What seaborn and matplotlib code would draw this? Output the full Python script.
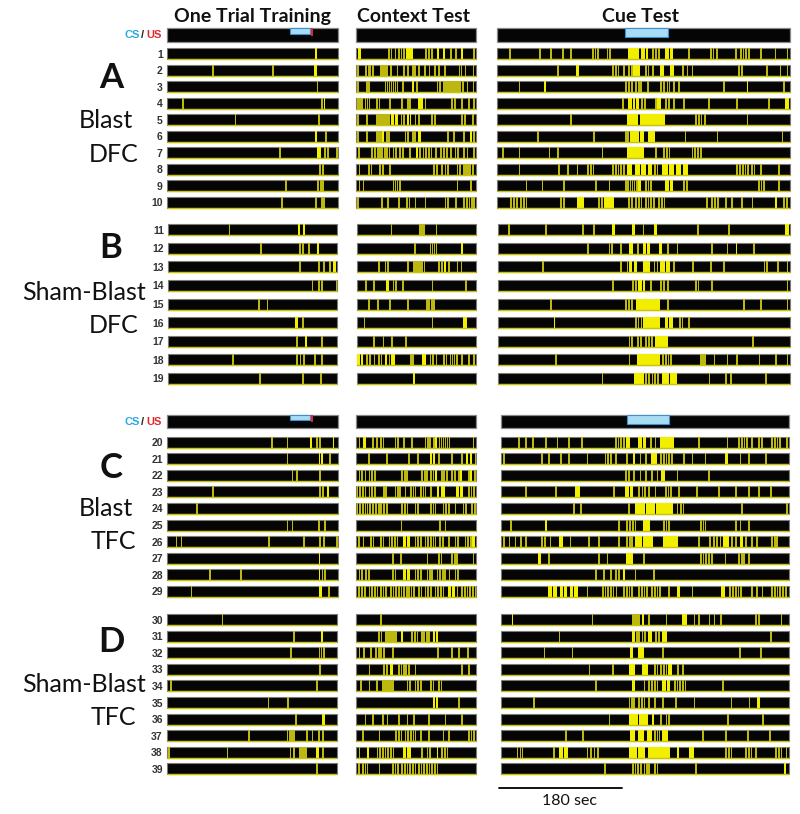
import numpy as np
import pandas as pd
import matplotlib
matplotlib.use("Agg")
import matplotlib.pyplot as plt
import seaborn as sns

# ---------------- data ----------------
TRAIN_DUR = 240
CONTEXT_DUR = 180
CUE_DUR = 420
train_cs = (173, 201)
train_us = (202.5, 204.5)
cue_cs = (184, 245)
SHORT = 2.5  # duration (s) of a brief freezing bout written as a single number

group_letters = ["A", "B", "C", "D"]
group_rows = [list(range(1, 11)), list(range(11, 20)), list(range(20, 30)), list(range(30, 40))]
group_line1 = ["Blast", "Sham-Blast", "Blast", "Sham-Blast"]
group_line2 = ["DFC", "DFC", "TFC", "TFC"]
titles = ["One Trial Training", "Context Test", "Cue Test"]
scale_label = "180 sec"
scale_len = 180

# freezing bouts per animal: number = brief bout start (s), tuple = (start, end) in s
training_bouts = [
    [(208, 211)], [63, 148, (207, 210)], [210], [21, 216, (220, 222)], [95, 212],
    [(208, 210), 222], [157, (211, 216), 220, 225, 237], [214, 218], [166, 211, 215, 218], [160, 208, 216, 219],
    [86, (184, 187), (192, 195)], [131, 186, 191, 199, (212, 215)], [186, 213, 220, 229, (235, 238)],
    [204, 213, 217, 238], [128, 140], [(181, 184), 191], [182, (195, 197), 217],
    [91, 182, 187, 192, 208, 217], [129, 191, 216],
    [146, 168, (200, 203), 209, 214, (233, 235)], [168, (213, 215), (216, 219), 227], [175, 181, 214],
    [63, 213, 218, (225, 227)], [41], [168, 175, 212, 220], [12, 19, 142, 191, 213, 219, 237],
    [(213, 215)], [59, 103, (213, 215), 217, 221], [33, (213, 218), 226],
    [77], [178, (218, 220)], [174, 214, 217, 220], [215], [4, 211], [142, 170], [181, (219, 223)],
    [115, 169, 172, 175, 178, 196, 204, 213, 219],
    [2, 84, 173, 178, 186, 189, 192, 195, (211, 214), 219], [211],
]

context_bouts = [
    [(3, 8), 48, 52, 58, 63, 67, 71, (75, 79), (80, 85), 104, 108, 113, (122, 125), (131, 134), 141, 149, (158, 161), 176],
    [2, 14, 18, 20, 24, 36, 39, 42, 45, 51, 61, 71, 77, 84, 87, 93, 102, 109, 117, 123, 132, 154, 157, 163, 175],
    [2, 15, 18, 43, 46, 49, 52, 55, 58, 61, 69, (84, 87), 90, 121, 125, 131, 134, 137, 140, 143, 146, 149, 152, 155, 159, 166, 175],
    [2, 5, 8, 13, 16, 19, 30, 34, 50, 68, 77, 80, (93, 97), (98, 101), 103, 143, 147, 158, 168, 176],
    [2, 15, 30, 33, 36, 39, 42, 45, 48, (53, 57), (59, 63), 67, 71, (77, 80), (81, 83), 88, 93, 113, 117, 158, 162, 174],
    [2, 15, 30, 33, 36, (39, 42), 45, 48, 73, 77, 84, 87, (93, 97), 137, 146, 161, (171, 174), 176],
    [3, 23, 27, 32, 35, 38, 42, 45, 49, 55, 59, 65, 69, 80, (90, 93), 95, 100, 104, 108, 112, 119, 126, 131, 135, 141, 148, 152, 161, 166, 176],
    [4, 18, 22, 35, 39, 50, 116, 120, 128, 133, 137, 151, 155, 161, 164, 167, 170, 174],
    [4, 10, 55, 58, 61, 65, 151, 171],
    [2, 38, 47, 63, 75, 79, 88, 103, 133, 137, 149, 161, 165, 169, 173, 176],
    [51, 94, 97, 100, 119],
    [86, 110, 113, 116, 119, (158, 161)],
    [32, 42, 46, 76, 85, 88, 91, 94, 97, 101, 123, 127, (131, 134), 138, 151, 157],
    [12, 24, (44, 48), 54, 58, 68, 113, 164],
    [17, 31, 49, 76, 105, 108, 112, 115],
    [10, 113, (161, 166)],
    [24, 39, 52, 73],
    [(0, 4), (6, 9), 14, 18, 25, 32, 36, (42, 46), 48, (51, 57), 80, 83, (98, 101), (102, 105), 110, 114, 119, 130, 134, 140, 143, 146, 150, 158, 168, 176],
    [(85, 87)],
    [4, (11, 15), 24, 30, 36, 40, 58, 62, 71, 83, 103, 107, 110, 116, (119, 122), 124, 127, 130, 133, 136, 139, 175],
    [18, 45, 78, 92, (111, 114), (116, 119), 123, 143, 158, (165, 168), (171, 174), 178],
    [4, 8, 13, 19, 23, 27, 68, 72, 75, 98, 102, 105, 111, 115, (118, 121), 128, 131, 135, 143, 147, 153, (156, 159), 168, (171, 174), 177],
    [1, 5, 9, 13, 19, 23, 27, 41, 44, 58, 62, 65, 73, 81, 85, 88, 96, 100, 103, 111, (121, 125), (127, 133), (150, 154), (156, 160), 168, 172, 176],
    [1, 5, 9, 13, 16, 20, 24, 29, 33, 36, 41, 45, 68, 72, 76, 88, 92, 111, 115, 118, 130, 134, 138, 148, 160, 164, 173, 177],
    [67, 125, 133],
    [3, 10, 21, 25, 36, 40, 49, 53, 57, 61, (71, 75), (77, 81), 88, 92, 96, 103, 107, 111, 115, 118, 125, 129, 138, 148, 152, 163, 167, 171, (174, 179)],
    [54, 66, 106, 123, 127, 143, 147, 150, 175],
    [4, 8, 14, 18, 54, 58, (71, 75), (77, 81), 88, 92, 96, 106, 110, 113, 121, 125, 129, 132, 139, 148, 152],
    [3, 8, 12, 19, 23, 27, 31, 36, 40, 44, 51, 55, 59, 63, 67, 71, 75, 78, 82, 86, 93, 97, 103, 107, 111, 118, 122, 126, 130, (138, 142), (144, 148), 151, 158, 162, 166, 170, 174, 178],
    [36],
    [33, 37, 44, 47, 50, 53, 56, 59, (68, 71), 83, 87, 91, 98, 101, 105, 108, (116, 119), (120, 123)],
    [4, 11, 21, 29, 33, 36, 41, 54, 122, 143, 153, 167],
    [19, 41, 45, (51, 55), 63, 67, 71, 74, 78, 88, 158, 168],
    [6, 19, 30, 39, 42, 45, 48, 51, 54, 76, 80, 88, 92, 96, 111, 115, 123, 127],
    [(116, 119), (120, 123), 153],
    [13, 24, 39, 46, 63, 76, 86, 108, 133, 158],
    [9, 34, 59, 63, 67, 73, 77, 81, 85, 88, 96, 108, 130, 138, 168, 172, 176],
    [4, (16, 20), 31, 35, 39, 43, 47, 51, 55, (71, 75), (77, 82), 98, 106, 110, (121, 123), 128, 132, 136],
    [3, 9, 13, 16, 34, 54, 58, 62, 68, 72, 76, 80, 84, 88, 93, 97, 101, 105, 109, 113, 117, 121],
]

cue_bouts = [
    [17, 60, 76, 93, 105, 136, 140, 144, 157, 161, (188, 196), (197, 203), (207, 212), (213, 217), 222, 227, 231, (241, 246), (248, 253), 274, 305, 309, 314, 341, 348, 352, 356, 360, 377, 398, 415],
    [86, (113, 118), 165, 169, 173, 181, 188, 192, (195, 205), 212, 216, 222, (234, 239), (248, 254), 265, 272, 279, 346, 350, 386, 405, 415],
    [31, (68, 70), 184, 188, 192, 198, 202, 205, 215, 234, 238, 243, 246, 253, 260, 324, (358, 360), 410],
    [179, (188, 193), (195, 198), (199, 203), 207, 211, 227, (230, 235), 241, 245, 253, 267, 303, 343, 389, (413, 418)],
    [105, (186, 202), (205, 241), 284, 288, 292, 297, 358],
    [57, 138, 184, 187, (191, 196), (197, 203), (205, 211), (217, 226), 269, 315, 408],
    [7, 31, 74, 86, 150, (186, 210), 227, 238, 242, 246, 279, 283, 287, 291],
    [31, 88, 100, 114, 129, 133, 137, 165, 169, 173, 177, 181, (186, 193), (198, 205), (206, 214), (216, 222), 225, 229, (236, 245), (246, 254), (256, 264), (266, 274), 343, 347, 351, 355, 359, 364, 368, 377, 403],
    [41, 64, 95, 141, 160, 184, 187, 190, 193, 196, 199, (202, 206), 212, 216, 220, (241, 247), (248, 253), 267, 271, 374, 378, 382, 403],
    [19, 23, 27, 33, 37, 41, 91, 95, (114, 124), 145, 149, (153, 160), (161, 167), 188, 192, 198, 202, 206, 212, 216, 220, 224, 231, 235, 239, 300, 307, 311, 316, 327, 336, 350, 365, (398, 401), 410, 414],
    [15, 68, 121, 137, (164, 168), (193, 197), 208, (224, 228), 286, 331, (413, 418)],
    [128, 159, 163, 176, (188, 194), 200, (209, 213), (214, 219), (231, 236), 243, 257, 307, 329, (342, 344), 367],
    [63, 176, 185, (188, 193), (195, 200), (209, 219), 224, 228, (233, 240), (241, 248), 252, 279, 305, 324, 382, 386, 401, 415],
    [164, 193, 197, (202, 207), (208, 212), 219, 233, 237, 243, 284, 287, 307, 415],
    [75, 183, 187, 191, (198, 233), 243, 353, 377, 415],
    [(80, 82), 197, 201, 205, (209, 233), (240, 245), (246, 252), 260, 264, 274],
    [188, 192, 200, 204, 212, 216, 220, (226, 234), (235, 245), 365],
    [82, 188, (200, 233), 236, 240, 244, 248, 291, 294, 297, 310, 329, 343, 375, 399, 415],
    [149, (195, 210), 212, 216, 221, 225, 229, (236, 246), (247, 257), 303, 327, 334, 384],
    [25, 35, 45, 64, 81, 98, 117, 166, 170, 174, 178, (183, 188), (200, 206), (207, 212), 217, 224, (232, 253), 287, 329, 346, 350, 354, 358, 365, 375, 379, 394, 398, 402, 406, 416],
    [3, 59, 69, 86, 98, 125, 151, 155, 159, 166, 183, (193, 196), 202, 210, (219, 227), 232, 236, 240, 244, 248, 266, 278, 297, (326, 331), 348, 360, 385],
    [181, 185, 193, 202, 210, 219, 227, (234, 239), 256, 302],
    [35, 79, (108, 115), 164, (181, 187), (188, 193), 200, 205, 209, 215, 224, 239, 243, 247, 258, 285, 317, 341, 360, 375, 392],
    [105, 115, 185, (195, 210), (212, 225), (226, 240), (241, 251), 256, 261, 265, 350, 416],
    [13, (64, 67), 171, 183, 187, 191, 195, (207, 211), (212, 217), 236, 240, 244, 290, 294, 297, 341, 348, 360],
    [3, 11, 20, 28, 35, 59, 63, 71, (84, 91), 100, 127, 142, 171, 183, 187, 190, (195, 206), (207, 222), (236, 246), (247, 258), 287, 304, 309, 314, 319, (324, 333), 336, 341, (348, 353), 356, 365, 372, 394, 398, 401],
    [(54, 59), 69, 142, 154, (183, 193), 207, 290, 294, 298, 302, 306, 326, 346, 350, 353, 360],
    [137, 149, 159, 166, 171, (178, 181), 195, 222],
    [(69, 75), (76, 81), (86, 91), (92, 96), (100, 105), (106, 113), 125, 147, 151, 155, 159, 163, 167, 178, 182, 186, 190, 200, 204, 208, 212, 219, 223, 227, 231, 244, (256, 261), 278, (321, 326), 333, 337, 341, 345, 349, 365, 372, 380, 394, 398, 402, 406, 410, 414],
    [(16, 18), 132, 191, 194, 197, 200, (205, 208), 215, 240, (264, 271), 281, 288, 303, 310, 320, 371, 375, 408],
    [84, (191, 196), 197, 200, 205, 209, (215, 220), 225, 229, (235, 242), 393],
    [62, 103, (188, 193), (200, 208), 235, 347, 378],
    [128, 162, (186, 196), (205, 215), 223, 227, 232, 236, 240, (244, 249), 257, 264],
    [137, (191, 196), 208, 215, 219, 223, 227, (235, 241), (242, 247), 252, 256, 260, 264, 268, 322],
    [47, 186, 190, 193, 200, 204, 208, 215, 223, 235, 254, 281, 335, 361, (373, 378)],
    [157, (186, 200), (201, 215), (220, 223), 232, 240, 244, 330, 381],
    [94, 118, (188, 196), (200, 208), (213, 220), 223, 227, 230, (235, 244), 293, 327, 359, 391],
    [23, 27, 30, 76, (84, 90), (92, 98), 125, 130, 135, 140, (186, 199), (200, 210), (215, 233), (234, 247), (257, 259), (274, 281), 327, 331, 335, 356, 360, 364, 371, 400, 404, 408, 415],
    [150, 191, 195, 199, 203, 208, 212, 215, 223, 227, 283, (412, 416)],
]

# ---------------- style / layout ----------------
sns.set_theme(style="white")
plt.rcParams["font.family"] = ["Lato", "DejaVu Sans"]

W, H = 800, 814
fig = plt.figure(figsize=(W / 100, H / 100), dpi=100)
fig.patch.set_facecolor("white")

BAR = "#050505"
YELLOW = "#f2ee00"
YELLOW_DIM = "#bdb810"
EDGE = "#7c7c74"
BOTTOM = "#c9c500"
CS_BLUE_FACE = "#a8dcf2"
CS_BLUE_EDGE = "#3d8fd6"
US_RED = "#e3262b"

# group vertical layout: (first row centre px, row spacing px)
group_layout = [(53.8, 16.47), (229.8, 18.55), (442.2, 16.56), (619.7, 16.57)]
BAR_PX = 11.0
# column x extents px per group
col_x = {
    0: [(167, 338), (168, 337), (167, 338), (167, 337)],
    1: [(356, 476), (357, 476), (356, 476), (356, 476)],
    2: [(497, 790), (498, 790), (501, 789), (501, 789)],
}
col_dur = [TRAIN_DUR, CONTEXT_DUR, CUE_DUR]
col_bouts = [training_bouts, context_bouts, cue_bouts]
cs_bar_y = [(28.3, 41.7), None, (414.5, 428.0), None]


def add_ax(x0, x1, y0, y1):
    return fig.add_axes([x0 / W, 1 - y1 / H, (x1 - x0) / W, (y1 - y0) / H])


def ftext(x, y, s, **kw):
    return fig.text(x / W, 1 - y / H, s, **kw)


def split_ranges(items):
    brief, long_ = [], []
    for it in items:
        if isinstance(it, tuple):
            long_.append((it[0], it[1] - it[0]))
        else:
            brief.append((it, SHORT))
    return brief, long_


def clean(ax):
    for sp in ax.spines.values():
        sp.set_visible(False)
    ax.set_xticks([])
    ax.set_xlabel("")
    ax.set_ylabel("")
    ax.tick_params(axis="both", length=0)


for g in range(4):
    c0, sp = group_layout[g]
    rows = group_rows[g]
    n = len(rows)
    y0 = c0 - sp / 2
    y1 = c0 + (n - 1) * sp + sp / 2
    bh = BAR_PX / sp
    for c in range(3):
        x0, x1 = col_x[c][g]
        ax = add_ax(x0, x1, y0, y1)
        ax.set_facecolor("none")
        dur = col_dur[c]
        df = pd.DataFrame({"animal": [str(r) for r in rows], "length": [dur] * n})
        sns.barplot(data=df, x="length", y="animal", orient="h", color=BAR, saturation=1,
                    width=bh, edgecolor=EDGE, linewidth=0.8, ax=ax)
        for p in ax.patches:
            p.set_clip_on(False)
        for i, r in enumerate(rows):
            brief, long_ = split_ranges(col_bouts[c][r - 1])
            for rngs, colr in ((brief, YELLOW_DIM), (long_, YELLOW)):
                if rngs:
                    bc = ax.broken_barh(rngs, (i - bh / 2, bh), facecolors=colr, edgecolor="none")
                    bc.set_clip_on(False)
            ax.hlines(i + bh / 2, 0, dur, color=BOTTOM, lw=1.0, clip_on=False)
        ax.set_xlim(0, dur)
        ax.set_ylim(n - 0.5, -0.5)
        clean(ax)
        if c == 0:
            ax.set_yticks(range(n))
            ax.set_yticklabels([str(r) for r in rows], fontsize=7.5, fontweight="bold",
                               family="Liberation Sans", color="#333333")
            ax.tick_params(axis="y", pad=3)
        else:
            ax.set_yticks([])
        if g == 3 and c == 2:
            # scale bar in cue-test seconds
            px_per_s = (x1 - x0) / dur
            last = c0 + (n - 1) * sp
            yb = (n - 1) + (788 - last) / sp
            yt = (n - 1) + (801 - last) / sp
            xs = (499 - x0) / px_per_s
            ax.plot([xs, xs + scale_len], [yb, yb], color="black", lw=1.3, clip_on=False)
            ax.text((569 - x0) / px_per_s, yt, scale_label, ha="center", va="center",
                    fontsize=11.5, clip_on=False, color="#111111")

    # CS/US bars
    if cs_bar_y[g] is not None:
        cy0, cy1 = cs_bar_y[g]
        for c in range(3):
            x0, x1 = col_x[c][g]
            ax = add_ax(x0, x1, cy0, cy1)
            ax.set_facecolor("none")
            dur = col_dur[c]
            ax.barh([0.5], [dur], height=1.0, left=0, color=BAR, edgecolor="#8a8a8a",
                    linewidth=0.9, clip_on=False)
            if c == 0:
                ax.barh([0.8], [train_cs[1] - train_cs[0]], height=0.4, left=train_cs[0],
                        color=CS_BLUE_FACE, edgecolor=CS_BLUE_EDGE, linewidth=0.8, clip_on=False)
                ax.barh([0.72], [train_us[1] - train_us[0]], height=0.56, left=train_us[0],
                        color=US_RED, edgecolor="none", clip_on=False)
            if c == 2:
                ax.barh([0.66], [cue_cs[1] - cue_cs[0]], height=0.68, left=cue_cs[0],
                        color=CS_BLUE_FACE, edgecolor=CS_BLUE_EDGE, linewidth=0.8, clip_on=False)
            ax.set_xlim(0, dur)
            ax.set_ylim(0, 1)
            clean(ax)
            ax.set_yticks([])
        ym = (cy0 + cy1) / 2
        kw = dict(fontsize=8, fontweight="bold", family="Liberation Sans", va="center")
        ftext(161.5, ym + 0.5, "US", ha="right", color=US_RED, **kw)
        ftext(142.5, ym + 0.5, "/", ha="center", color="#222222", **kw)
        ftext(140.0, ym + 0.5, "CS", ha="right", color="#2aa8e0", **kw)

# column titles
for cx, t in zip([252, 414, 641], titles):
    ftext(cx, 22, t, ha="center", va="baseline", fontsize=14, fontweight="bold", color="#111111")

# group labels
letter_pos = [(111, 88.5), (111, 258), (111, 478), (111, 652)]
line1_pos = [(105.5, 128.5), (84.5, 300), (105.5, 516), (84.5, 692)]
line2_pos = [(113.5, 161.5), (113.5, 333), (113.5, 549), (113.5, 725)]
for g in range(4):
    ftext(*letter_pos[g], group_letters[g], ha="center", va="baseline", fontsize=25,
          fontweight="bold", color="#111111")
    ftext(*line1_pos[g], group_line1[g], ha="center", va="baseline", fontsize=18, color="#111111")
    ftext(*line2_pos[g], group_line2[g], ha="center", va="baseline", fontsize=18, color="#111111")

fig.savefig("out.png", dpi=100, facecolor="white")
